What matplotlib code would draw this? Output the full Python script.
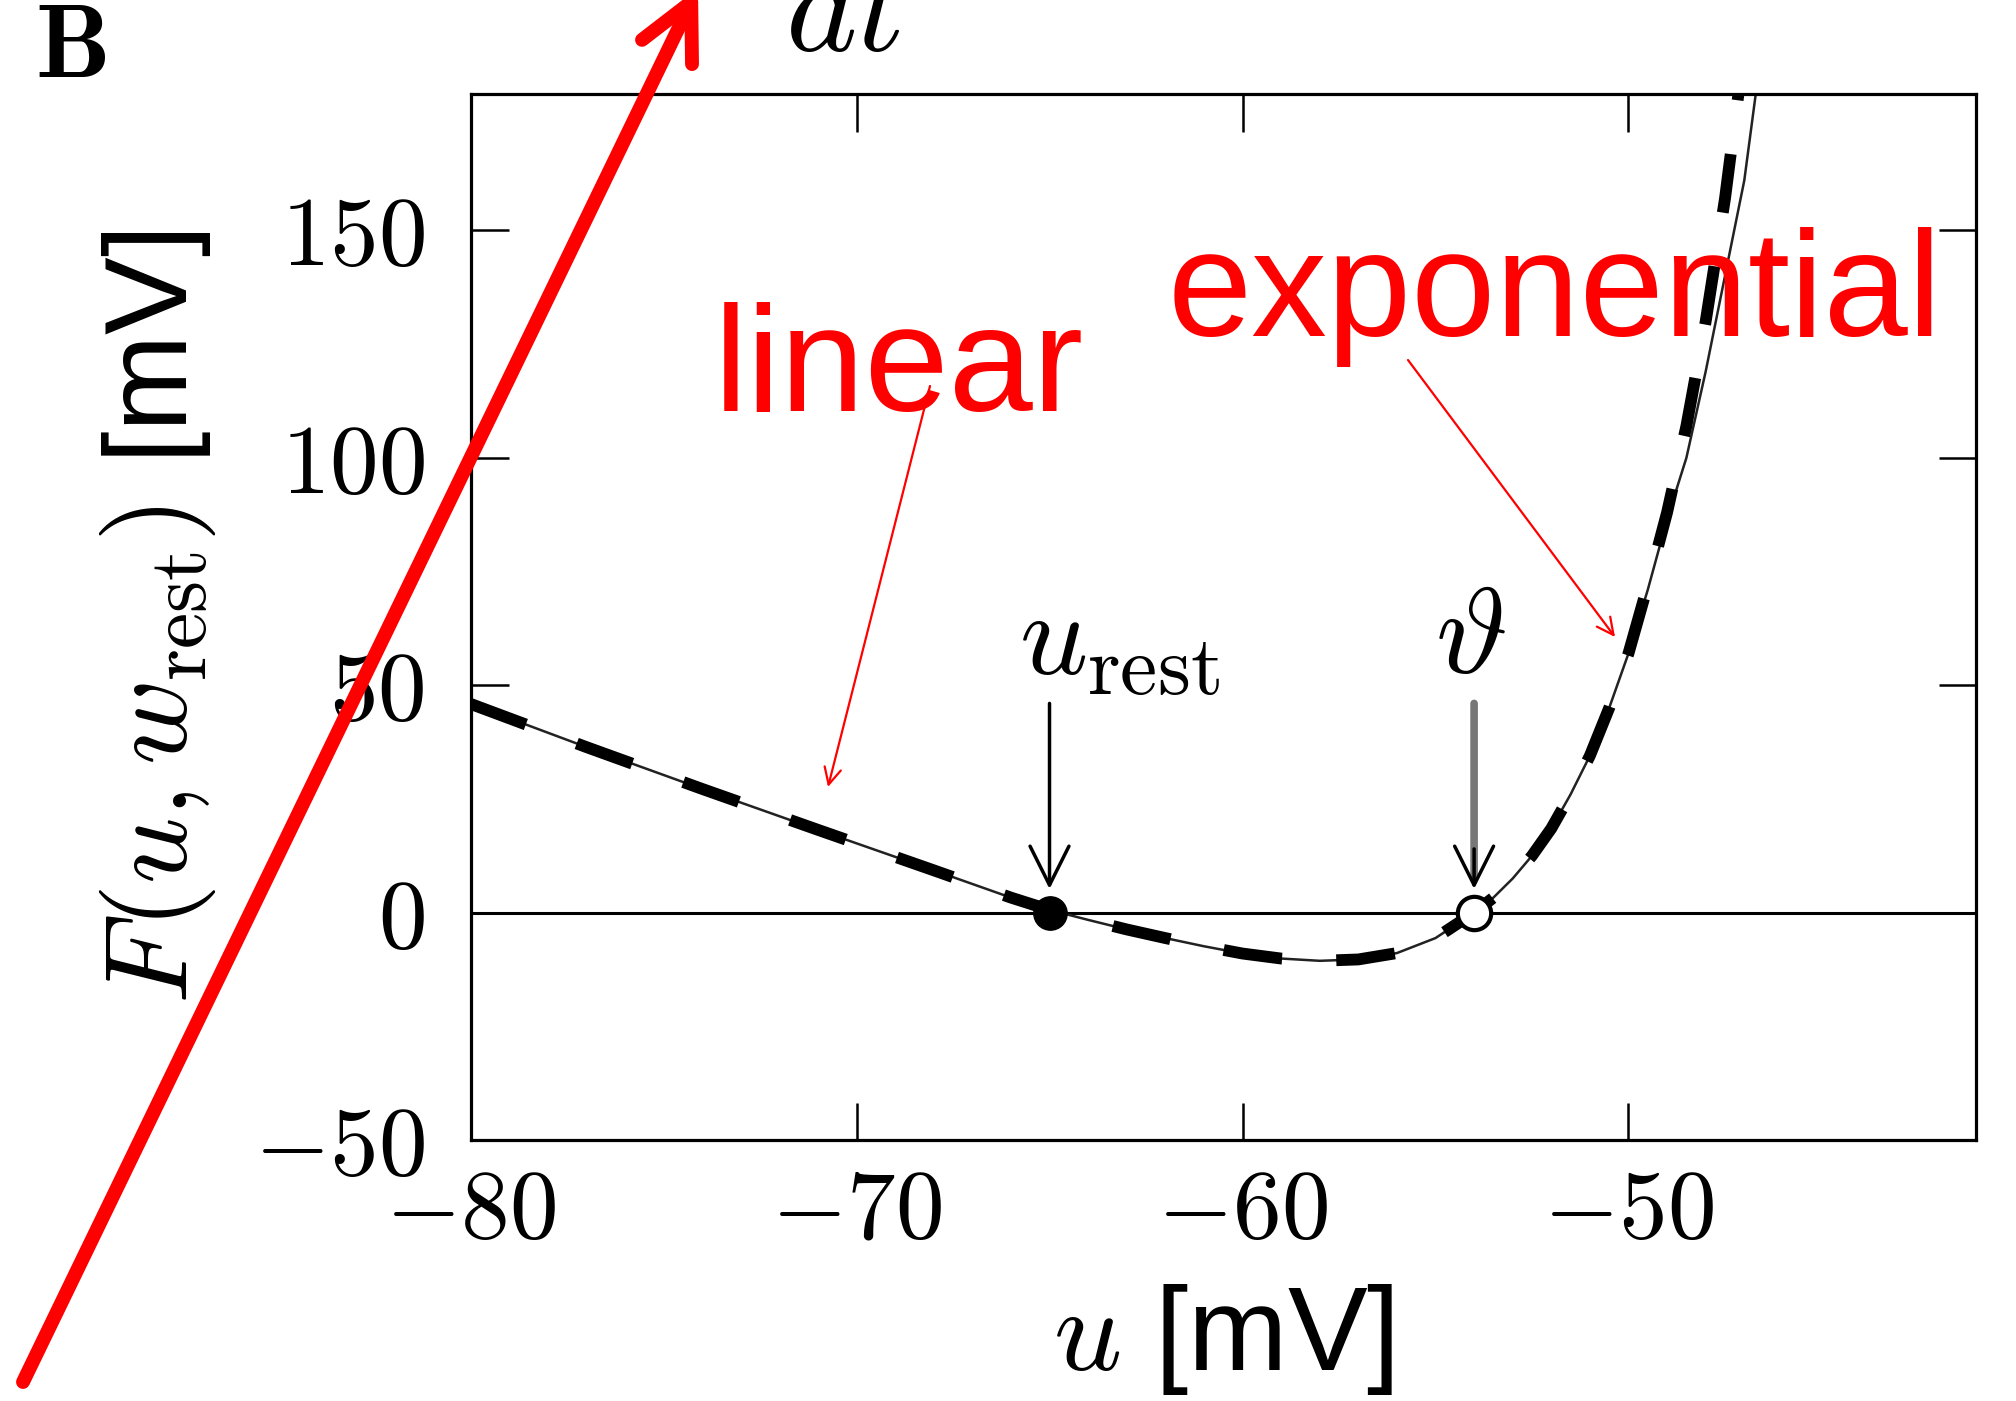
import matplotlib
matplotlib.use('Agg')
import matplotlib.pyplot as plt

# ---- data ----
# full model curve (thin line)
u_model = [-80, -77, -74, -71, -68, -66, -65, -64, -63, -62, -61, -60, -59, -58, -57,
           -56, -55, -54, -53.5, -53, -52.5, -52, -51.5, -51, -50.5, -50, -49.5, -49,
           -48.5, -48, -47.5, -47, -46.5]
F_model = [45.9, 36.4, 27.2, 18.2, 9.3, 3.3, 0.6, -1.6, -3.7, -5.6, -7.4, -9.0, -10.1,
           -10.6, -10.3, -8.9, -5.6, 0.0, 3.3, 7.5, 12.5, 18.5, 26.0, 34.5, 45.0, 57.0,
           71.0, 86.5, 100.0, 119.0, 140.0, 161.0, 193.0]
# approximation (thick dashed line)
u_approx = [-80, -77, -74, -71, -68, -66, -65, -64, -63, -62, -61, -60, -59, -58, -57,
            -56, -55, -54, -53.5, -53, -52.5, -52, -51.5, -51, -50.5, -50, -49.5, -49,
            -48.5, -48, -47.5, -47]
F_approx = [45.9, 36.4, 27.2, 18.2, 9.3, 3.3, 0.6, -1.6, -3.7, -5.6, -7.4, -9.0, -10.1,
            -10.6, -10.3, -8.9, -5.6, 0.0, 3.3, 7.5, 12.5, 18.5, 26.0, 34.5, 45.0, 57.0,
            72.0, 88.0, 107.0, 130.0, 157.0, 190.0]
u_rest = -65.0
theta = -54.0
x_ticks = [-80, -70, -60, -50]
y_ticks = [-50, 0, 50, 100, 150]

plt.rcParams['mathtext.fontset'] = 'cm'
plt.rcParams['font.family'] = ['Liberation Sans', 'DejaVu Sans']

fig = plt.figure(figsize=(20.16, 14.01), dpi=100)
ax = fig.add_axes([0.2334, 0.1863, 0.7467, 0.7466])
ax.set_xlim(-80, -41)
ax.set_ylim(-50, 180)

ax.axhline(0, color='black', lw=2.2, zorder=1)
ax.plot(u_model, F_model, color='#222222', lw=1.8, zorder=2)
ax.plot(u_approx, F_approx, color='black', lw=8.5, linestyle=(0, (5.0, 4.6)),
        dash_capstyle='butt', zorder=3)
ax.plot([u_rest], [0], 'o', color='black', ms=24, zorder=6)
ax.plot([theta], [0], 'o', mfc='white', mec='black', ms=24, mew=3, zorder=6)

# annotations for u_rest and theta
ax.text(-63.2, 52.4, r'$u_{\rm rest}$', ha='center', va='baseline', fontsize=86)
ax.annotate('', xy=(u_rest, 5.2), xytext=(u_rest, 46),
            arrowprops=dict(arrowstyle='->', mutation_scale=70, lw=2.5,
                            color='black', shrinkA=0, shrinkB=0))
ax.text(theta - 0.1, 52.6, r'$\vartheta$', ha='center', va='baseline', fontsize=88)
ax.annotate('', xy=(theta, 8), xytext=(theta, 46),
            arrowprops=dict(arrowstyle='-', lw=5.5, color='#777777',
                            shrinkA=0, shrinkB=0))
ax.annotate('', xy=(theta, 5.2), xytext=(theta, 14),
            arrowprops=dict(arrowstyle='->', mutation_scale=70, lw=2.5,
                            color='black', shrinkA=0, shrinkB=0))

# axes styling
for sp in ax.spines.values():
    sp.set_linewidth(2.3)
ax.set_xticks(x_ticks, labels=[rf'${v}$' for v in x_ticks])
ax.set_yticks(y_ticks, labels=[rf'${v}$' for v in y_ticks])
ax.tick_params(direction='in', length=27, width=1.8, top=True, right=True,
               labelsize=70)
ax.tick_params(axis='x', pad=20)
ax.tick_params(axis='y', pad=33)

ax.set_xlabel(r'$u$ [mV]', fontsize=86)
ax.xaxis.set_label_coords(0.5, -0.136)
ax.set_ylabel(r'$F(u,w_{\rm rest})$ [mV]', fontsize=84)
ax.yaxis.set_label_coords(-0.168, 0.5)

# overlays
fig.text(0.0175, 1 - 77 / 1401, r'$\mathbf{B}$', fontsize=76, va='baseline')
fig.text(785 / 2016, 1 - 50 / 1401, r'$dt$', fontsize=98, va='baseline')
fig.text(0.354, 0.7063, 'linear', color='red', fontsize=109, ha='left', va='baseline')
fig.text(0.579, 0.760, 'exponential', color='red', fontsize=109, ha='left', va='baseline')

ax.annotate('', xy=(828, 614), xytext=(930, 1015), xycoords='figure pixels',
            textcoords='figure pixels',
            arrowprops=dict(arrowstyle='->', mutation_scale=30, lw=1.6, color='red',
                            shrinkA=0, shrinkB=0))
ax.annotate('', xy=(1615, 764), xytext=(1408, 1041), xycoords='figure pixels',
            textcoords='figure pixels',
            arrowprops=dict(arrowstyle='->', mutation_scale=30, lw=1.6, color='red',
                            shrinkA=0, shrinkB=0))
ax.annotate('', xy=(698, 1413), xytext=(23, 19), xycoords='figure pixels',
            textcoords='figure pixels', annotation_clip=False,
            arrowprops=dict(arrowstyle='->', mutation_scale=100, lw=10, color='red',
                            capstyle='round', joinstyle='round',
                            shrinkA=0, shrinkB=0))

fig.savefig('out.png', dpi=100)
